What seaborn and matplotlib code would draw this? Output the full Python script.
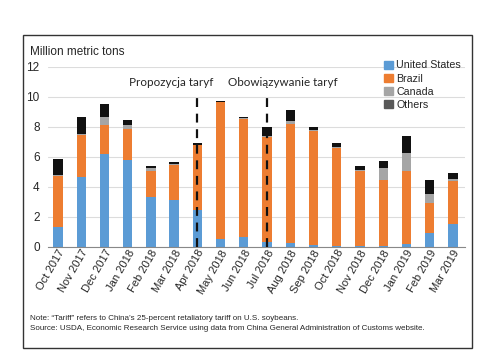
import pandas as pd
import seaborn as sns
import matplotlib.pyplot as plt
from matplotlib.patches import Rectangle, Patch

# =================== Data ===================

months = ['Oct 2017', 'Nov 2017', 'Dec 2017', 'Jan 2018', 'Feb 2018', 'Mar 2018',
          'Apr 2018', 'May 2018', 'Jun 2018', 'Jul 2018', 'Aug 2018', 'Sep 2018',
          'Oct 2018', 'Nov 2018', 'Dec 2018', 'Jan 2019', 'Feb 2019', 'Mar 2019']

united_states = [1.33, 4.62, 6.18, 5.78, 3.33, 3.11, 2.45, 0.50, 0.62, 0.30, 0.25, 0.10,
                 0.05, 0.02, 0.05, 0.15, 0.90, 1.50]
brazil = [3.37, 2.80, 1.93, 2.09, 1.74, 2.34, 4.33, 9.15, 7.88, 7.03, 7.95, 7.59,
          6.55, 5.05, 4.39, 4.90, 1.99, 2.86]
canada = [0.05, 0.10, 0.56, 0.26, 0.18, 0.07, 0.03, 0.02, 0.05, 0.05, 0.20, 0.10,
          0.05, 0.03, 0.78, 1.22, 0.62, 0.13]
others = [1.10, 1.15, 0.84, 0.32, 0.15, 0.13, 0.10, 0.05, 0.12, 0.58, 0.70, 0.19,
          0.24, 0.28, 0.49, 1.11, 0.93, 0.44]

series_names = ['United States', 'Brazil', 'Canada', 'Others']
series_colors = ['#5b9bd5', '#ed7d31', '#a5a5a5', '#111111']
legend_colors = ['#5b9bd5', '#ed7d31', '#a5a5a5', '#595959']

# =================== Plot ===================

sns.set_style('white')
plt.rcParams['font.family'] = ['Liberation Sans', 'DejaVu Sans']

df = pd.DataFrame({'Month': months, 'United States': united_states, 'Brazil': brazil,
                   'Canada': canada, 'Others': others})

fig = plt.figure(figsize=(4.95, 3.5), dpi=100)
ax = fig.add_axes([48 / 495, 1 - 246.7 / 350, (465 - 48) / 495, 180 / 350])

bottom = [0.0] * len(months)
for name, color in zip(series_names, series_colors):
    sns.barplot(data=df, x='Month', y=name, color=color, width=0.4,
                bottom=bottom, ax=ax, zorder=2, linewidth=0, saturation=1)
    bottom = [b + v for b, v in zip(bottom, df[name])]

ax.set_ylim(0, 12)
ax.set_xlim(-0.43, 17.52)
ax.set_yticks(range(0, 13, 2))
ax.yaxis.grid(True, color='#dcdcdc', linewidth=0.8, zorder=0)
ax.set_axisbelow(True)
for s in ['top', 'right', 'left']:
    ax.spines[s].set_visible(False)
ax.spines['bottom'].set_color('#888888')
ax.spines['bottom'].set_linewidth(0.8)
ax.set_xlabel('')
ax.set_ylabel('')
ax.tick_params(axis='y', labelsize=8.5, length=0, pad=6)
ax.tick_params(axis='x', labelsize=8, length=0, pad=1)
plt.setp(ax.get_xticklabels(), rotation=60, ha='right', rotation_mode='anchor')

# tariff markers
for xpos in [months.index('Apr 2018'), months.index('Jul 2018')]:
    ax.plot([xpos, xpos], [0, 10], color='#111111', linestyle=(0, (4, 3)),
            linewidth=1.6, zorder=3)
annot_font = ['Lato', 'DejaVu Sans']
fig.text(129 / 495, 1 - 82 / 350, 'Propozycja taryf', fontsize=8.4, ha='left', va='center',
         family=annot_font)
fig.text(228 / 495, 1 - 82 / 350, 'Obowiązywanie taryf', fontsize=8.4, ha='left', va='center',
         family=annot_font)

fig.text(30 / 495, 1 - 52 / 350, 'Million metric tons', fontsize=8.5, va='center')

handles = [Patch(color=c, label=n) for n, c in zip(series_names, legend_colors)]
fig.legend(handles=handles, loc='upper left', bbox_to_anchor=(379 / 495, 1 - 55 / 350),
           frameon=False, fontsize=7.7, handlelength=0.8, handleheight=0.8,
           handletextpad=0.3, labelspacing=0.3, borderpad=0)

fig.text(30 / 495, 1 - 319 / 350,
         'Note: \u201cTariff\u201d refers to China\u2019s 25-percent retaliatory tariff on U.S. soybeans.',
         fontsize=5.8, va='center')
fig.text(30 / 495, 1 - 329 / 350,
         'Source: USDA, Economic Research Service using data from China General Administration of Customs website.',
         fontsize=5.8, va='center')

fig.patches.append(Rectangle((23 / 495, 1 - 348 / 350), (472 - 23) / 495, (348 - 35) / 350,
                             transform=fig.transFigure, fill=False,
                             edgecolor='#333333', linewidth=1))

plt.savefig('out.png', dpi=100)
